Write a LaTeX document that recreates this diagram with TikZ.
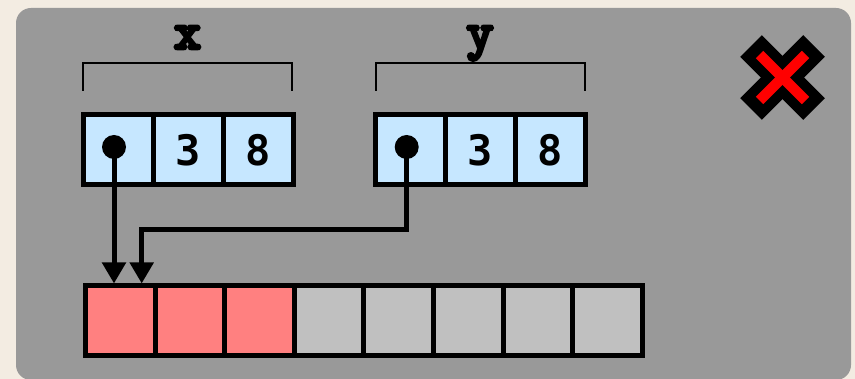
\documentclass[tikz,border=0pt]{standalone}
\usepackage{fontspec}
\usetikzlibrary{arrows.meta}
\newfontfamily\valfont{DejaVu Sans Mono}
\newfontfamily\namefont{lmmonolt10-bold.otf}[FakeBold=5]

\definecolor{pagebg}{RGB}{243,236,226}
\definecolor{panel}{RGB}{153,153,153}
\definecolor{slot}{RGB}{198,231,255}
\definecolor{used}{RGB}{255,128,128}
\definecolor{free}{RGB}{192,192,192}
\definecolor{crossred}{RGB}{255,0,0}

\tikzset{
  cell/.style={draw=black, line width=5pt, minimum width=70pt, minimum height=70pt,
               inner sep=0pt, anchor=center},
  field/.style={cell, fill=slot, font=\valfont\bfseries\fontsize{42}{42}\selectfont},
  heap/.style={cell, minimum width=69.6pt, minimum height=69.5pt},
  dot/.style={circle, fill=black, minimum size=24pt, inner sep=0pt},
  ptr/.style={line width=5pt, line join=miter, -{Triangle[length=21pt, width=23pt]}},
  brace/.style={line width=1.2pt},
  varname/.style={anchor=base, inner sep=0pt, font=\namefont\fontsize{53}{53}\selectfont},
}

\begin{document}
\begin{tikzpicture}[x=1pt, y=-1pt]
  % page and panel
  \fill[pagebg] (0,0) rectangle (855,379);
  \useasboundingbox (0,0) rectangle (855,379);
  \fill[panel, rounded corners=15pt] (16,8) rectangle (851,380);

  % variable x
  \node[field] (x1) at (118,150) {};
  \node[field] (x2) at (188,150) {3};
  \node[field] (x3) at (258,150) {8};
  \draw[brace] (83,91) -- (83,63) -- (292,63) -- (292,91);
  \node[varname] (xname) at (187.5,49) {x};

  % variable y
  \node[field] (y1) at (410,150) {};
  \node[field] (y2) at (480,150) {3};
  \node[field] (y3) at (550,150) {8};
  \draw[brace] (376,91) -- (376,63) -- (585,63) -- (585,91);
  \node[varname] (yname) at (480,49) {y};

  % heap array
  \foreach \i/\c in {1/used,2/used,3/used,4/free,5/free,6/free,7/free,8/free}
    \node[heap, fill=\c] (a\i) at ({120.3+69.6*(\i-1)},320.75) {};

  % pointers
  \node[dot] (xd) at (114,147) {};
  \node[dot] (yd) at (406.7,147) {};
  \draw[ptr] (xd.center) -- (xd.center |- a1.north);
  \coordinate (ybend) at (141.7,230);
  \draw[ptr] (yd.center) |- (ybend) -- (ybend |- a1.north);

  % red cross
  \draw[line width=30.5pt, black] (751,46) -- (814,109);
  \draw[line width=30.5pt, black] (814,46) -- (751,109);
  \draw[line width=10.5pt, crossred] (759.5,54.5) -- (805.5,100.5);
  \draw[line width=10.5pt, crossred] (805.5,54.5) -- (759.5,100.5);
\end{tikzpicture}
\end{document}
